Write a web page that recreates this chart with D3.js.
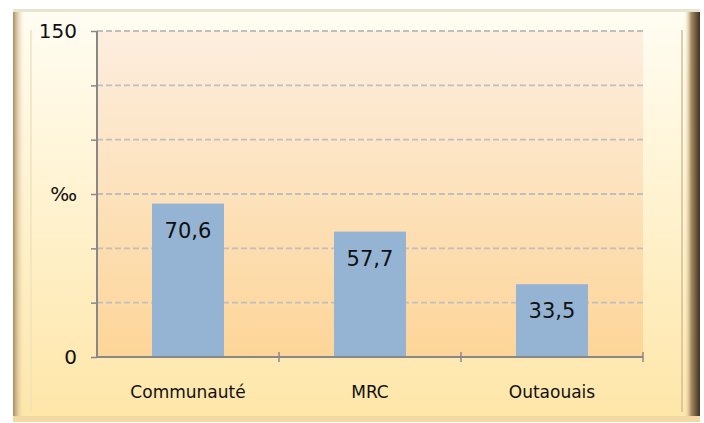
<!DOCTYPE html>
<html>
<head>
<meta charset="utf-8">
<script src="https://cdn.jsdelivr.net/npm/d3@7"></script>
<style>
  body { margin: 0; background: #fff; }
  svg { display: block; font-family: "DejaVu Sans", "Lato", sans-serif; }
</style>
</head>
<body>
<div id="chart"></div>
<script>
const categories = ['Communauté', 'MRC', 'Outaouais'];
const values = [70.6, 57.7, 33.5];
const valueLabels = ['70,6', '57,7', '33,5'];
const gridTicks = [0, 25, 50, 75, 100, 125, 150];
const tickLabels = [{ v: 150, t: '150' }, { v: 75, t: '‰' }, { v: 0, t: '0' }];

const W = 704, H = 423;
const svg = d3.select('#chart').append('svg')
    .attr('width', W)
    .attr('height', H);

const defs = svg.append('defs');

// frame background gradient
const fg = defs.append('linearGradient').attr('id', 'frameGrad')
    .attr('x1', 0).attr('y1', 0).attr('x2', 0).attr('y2', 1);
fg.append('stop').attr('offset', '0%').attr('stop-color', '#fffdf3');
fg.append('stop').attr('offset', '100%').attr('stop-color', '#ffe6a8');

// plot area gradient
const pg = defs.append('linearGradient').attr('id', 'plotGrad')
    .attr('x1', 0).attr('y1', 0).attr('x2', 0).attr('y2', 1);
pg.append('stop').attr('offset', '0%').attr('stop-color', '#fdeedf');
pg.append('stop').attr('offset', '100%').attr('stop-color', '#fdd598');

// bevel gradients
const lb = defs.append('linearGradient').attr('id', 'leftBevel')
    .attr('x1', 0).attr('y1', 0).attr('x2', 1).attr('y2', 0);
lb.append('stop').attr('offset', '0%').attr('stop-color', '#a98a62');
lb.append('stop').attr('offset', '100%').attr('stop-color', '#fff3cc').attr('stop-opacity', 0);
const rb = defs.append('linearGradient').attr('id', 'rightBevel')
    .attr('x1', 0).attr('y1', 0).attr('x2', 1).attr('y2', 0);
rb.append('stop').attr('offset', '0%').attr('stop-color', '#fff0c8').attr('stop-opacity', 0);
rb.append('stop').attr('offset', '45%').attr('stop-color', '#a78a62');
rb.append('stop').attr('offset', '100%').attr('stop-color', '#3e3020');

// outer frame
svg.append('rect')
    .attr('x', 13).attr('y', 9)
    .attr('width', 687).attr('height', 413)
    .attr('fill', 'url(#frameGrad)');
svg.append('rect')
    .attr('x', 13).attr('y', 9)
    .attr('width', 12).attr('height', 413)
    .attr('fill', 'url(#leftBevel)');
svg.append('rect')
    .attr('x', 684).attr('y', 9)
    .attr('width', 16).attr('height', 413)
    .attr('fill', 'url(#rightBevel)');
svg.append('rect')
    .attr('x', 13).attr('y', 9)
    .attr('width', 687).attr('height', 3)
    .attr('fill', '#e9e4d0');
svg.append('rect')
    .attr('x', 13).attr('y', 416)
    .attr('width', 687).attr('height', 6)
    .attr('fill', '#f3d9a4');
// inner bevel lines
svg.append('line')
    .attr('x1', 31).attr('x2', 31).attr('y1', 30).attr('y2', 412)
    .attr('stroke', '#efe2bd').attr('stroke-width', 1.5);
svg.append('line')
    .attr('x1', 682).attr('x2', 682).attr('y1', 30).attr('y2', 412)
    .attr('stroke', '#cdbf9c').attr('stroke-width', 1.5);

const margin = { top: 31, left: 97 };
const width = 546, height = 326;

const g = svg.append('g')
    .attr('transform', `translate(${margin.left},${margin.top})`);

const xb = d3.scaleBand()
    .domain(categories)
    .range([0, width]);

const y = d3.scaleLinear()
    .domain([0, 150])
    .range([height, 0]);

g.append('rect')
    .attr('width', width)
    .attr('height', height)
    .attr('fill', 'url(#plotGrad)');

// dashed gridlines
g.selectAll('.grid')
    .data(gridTicks.filter(d => d > 0))
    .enter()
    .append('line')
    .attr('class', 'grid')
    .attr('x1', 0)
    .attr('x2', width)
    .attr('y1', d => y(d))
    .attr('y2', d => y(d))
    .attr('stroke', '#bfbfbf')
    .attr('stroke-width', 1.8)
    .attr('stroke-dasharray', '6,3');

// bars
g.selectAll('.bar')
    .data(values)
    .enter()
    .append('rect')
    .attr('class', 'bar')
    .attr('x', (d, i) => xb(categories[i]) + xb.bandwidth() / 2 - 36)
    .attr('y', d => y(d))
    .attr('width', 72)
    .attr('height', d => height - y(d))
    .attr('fill', '#95b3d3');

g.selectAll('.bar-label')
    .data(values)
    .enter()
    .append('text')
    .attr('class', 'bar-label')
    .attr('x', (d, i) => xb(categories[i]) + xb.bandwidth() / 2)
    .attr('y', d => y(d) + 34)
    .attr('text-anchor', 'middle')
    .style('fill', '#111')
    .style('font-size', '21px')
    .text((d, i) => valueLabels[i]);

// y axis
const yAxis = g.append('g')
    .call(d3.axisLeft(y).tickValues(gridTicks).tickSize(6).tickFormat(''));
yAxis.select('.domain').attr('stroke', '#888').attr('stroke-width', 2).attr('d', `M0,0V${height}`);
yAxis.selectAll('.tick line').attr('stroke', '#888').attr('stroke-width', 1.5);

g.selectAll('.ylab')
    .data(tickLabels)
    .enter()
    .append('text')
    .attr('class', 'ylab')
    .attr('x', -20)
    .attr('y', d => y(d.v) + 7)
    .attr('text-anchor', 'end')
    .style('fill', '#111')
    .style('font-size', '20px')
    .text(d => d.t);

// x axis
const xAxis = g.append('g')
    .attr('transform', `translate(0,${height})`)
    .call(d3.axisBottom(xb).tickSize(0).tickFormat(''));
xAxis.select('.domain').attr('stroke', '#888').attr('stroke-width', 2).attr('d', `M0,0H${width}`);
xAxis.selectAll('.tick').remove();

g.selectAll('.xtick')
    .data(categories)
    .enter()
    .append('line')
    .attr('class', 'xtick')
    .attr('x1', d => xb(d) + xb.bandwidth())
    .attr('x2', d => xb(d) + xb.bandwidth())
    .attr('y1', height - 5)
    .attr('y2', height + 5)
    .attr('stroke', '#888')
    .attr('stroke-width', 1.5);

g.selectAll('.xlab')
    .data(categories)
    .enter()
    .append('text')
    .attr('class', 'xlab')
    .attr('x', d => xb(d) + xb.bandwidth() / 2)
    .attr('y', height + 41)
    .attr('text-anchor', 'middle')
    .style('fill', '#111')
    .style('font-size', '17px')
    .text(d => d);
</script>
</body>
</html>
